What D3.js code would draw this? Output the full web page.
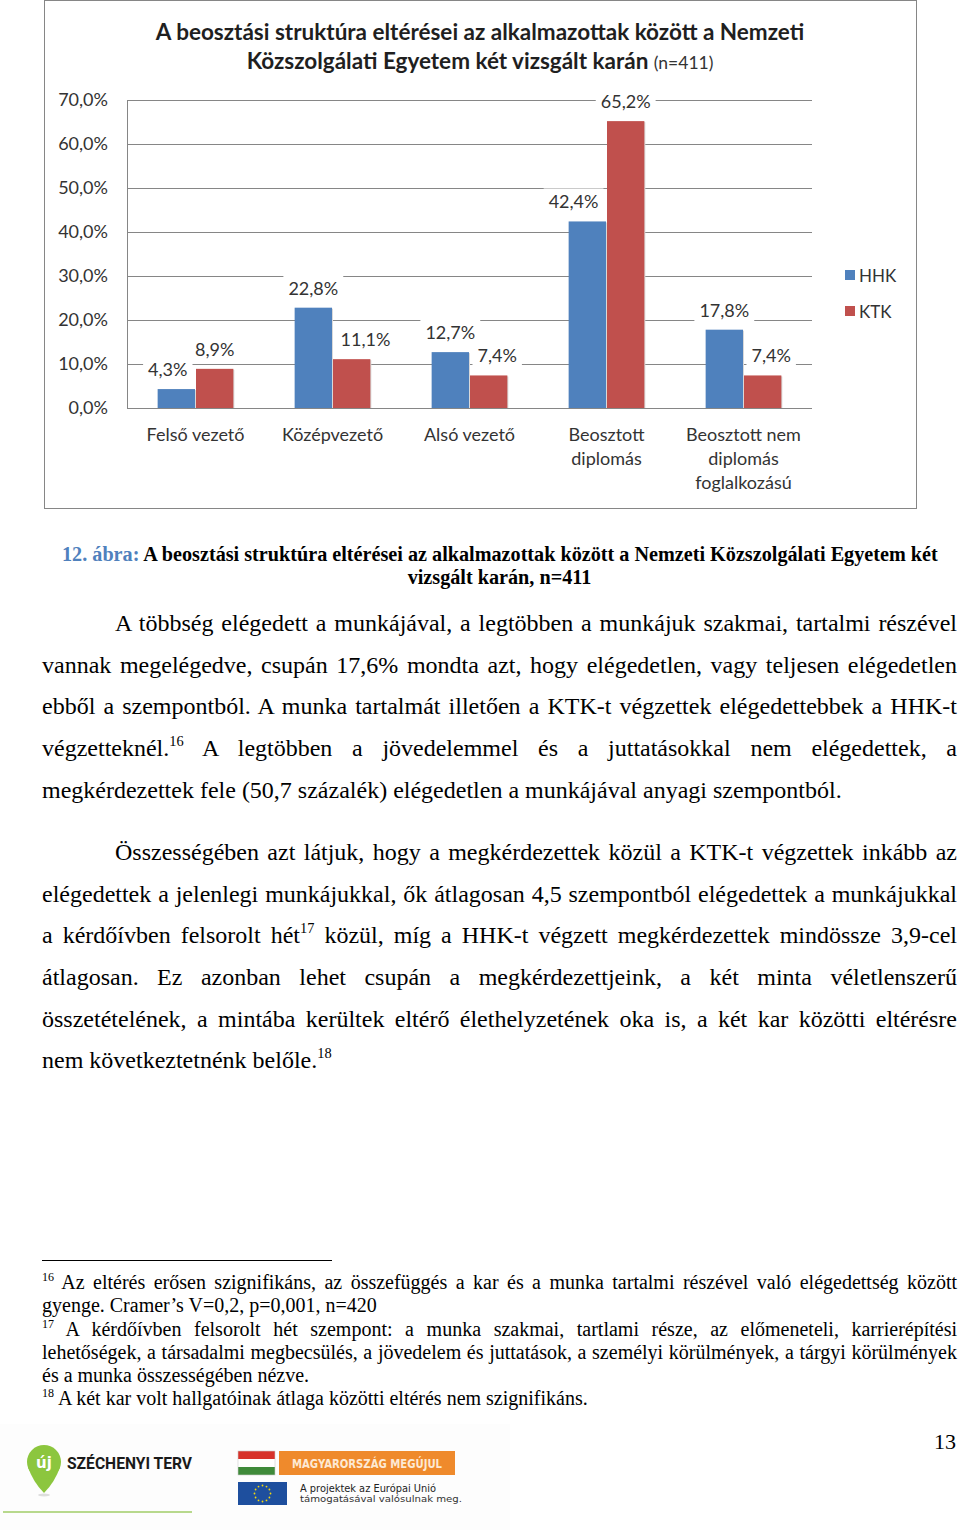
<!DOCTYPE html>
<html>
<head>
<meta charset="utf-8">
<script src="https://cdn.jsdelivr.net/npm/d3@7"></script>
<style>
  body { margin: 0; background: #fff; }
  svg { display: block; }
</style>
</head>
<body>
<div id="page"></div>
<script>
// chart data
const categories = [
  ["Felső vezető"],
  ["Középvezető"],
  ["Alsó vezető"],
  ["Beosztott", "diplomás"],
  ["Beosztott nem", "diplomás", "foglalkozású"]
];
const seriesNames = ["HHK", "KTK"];
const hhkValues = [4.3, 22.8, 12.7, 42.4, 17.8];
const ktkValues = [8.9, 11.1, 7.4, 65.2, 7.4];
const yTicks = [0, 10, 20, 30, 40, 50, 60, 70];

const chartTitle1 = "A beosztási struktúra eltérései az alkalmazottak között a Nemzeti";
const chartTitle2 = "Közszolgálati Egyetem két vizsgált karán";
const chartTitleN = "(n=411)";

// page text
const captionLabel = "12. ábra:";
const captionLine1 = "A beosztási struktúra eltérései az alkalmazottak között a Nemzeti Közszolgálati Egyetem két";
const captionLine2 = "vizsgált karán, n=411";

const paragraph1 = [
  "A többség elégedett a munkájával, a legtöbben a munkájuk szakmai, tartalmi részével",
  "vannak megelégedve, csupán 17,6% mondta azt, hogy elégedetlen, vagy teljesen elégedetlen",
  "ebből a szempontból. A munka tartalmát illetően a KTK-t végzettek elégedettebbek a HHK-t",
  "végzetteknél.^16 A legtöbben a jövedelemmel és a juttatásokkal nem elégedettek, a",
  "megkérdezettek fele (50,7 százalék) elégedetlen a munkájával anyagi szempontból."
];
const paragraph2 = [
  "Összességében azt látjuk, hogy a megkérdezettek közül a KTK-t végzettek inkább az",
  "elégedettek a jelenlegi munkájukkal, ők átlagosan 4,5 szempontból elégedettek a munkájukkal",
  "a kérdőívben felsorolt hét^17 közül, míg a HHK-t végzett megkérdezettek mindössze 3,9-cel",
  "átlagosan. Ez azonban lehet csupán a megkérdezettjeink, a két minta véletlenszerű",
  "összetételének, a mintába kerültek eltérő élethelyzetének oka is, a két kar közötti eltérésre",
  "nem következtetnénk belőle.^18"
];
const footnotes = [
  "^16 Az eltérés erősen szignifikáns, az összefüggés a kar és a munka tartalmi részével való elégedettség között",
  "gyenge. Cramer’s V=0,2, p=0,001, n=420",
  "^17 A kérdőívben felsorolt hét szempont: a munka szakmai, tartlami része, az előmeneteli, karrierépítési",
  "lehetőségek, a társadalmi megbecsülés, a jövedelem és juttatások, a személyi körülmények, a tárgyi körülmények",
  "és a munka összességében nézve.",
  "^18 A két kar volt hallgatóinak átlaga közötti eltérés nem szignifikáns."
];
const footnoteJustify = [true, false, true, true, false, false];
const pageNumber = "13";

const blue = "#4f81bd";
const red = "#c0504d";
const gridColor = "#868686";
const chartFont = "Lato, 'Open Sans', sans-serif";
const serif = "'Liberation Serif', 'DejaVu Serif', serif";

const svg = d3.select("#page").append("svg")
    .attr("width", 960)
    .attr("height", 1530);

svg.append("rect").attr("width", 960).attr("height", 1530).attr("fill", "#fff");

// ---------- chart ----------
const plot = {left: 127, right: 812, top: 100, bottom: 408};

svg.append("rect")
    .attr("x", 44.5).attr("y", 0.5)
    .attr("width", 872).attr("height", 508)
    .attr("fill", "#fff")
    .attr("stroke", gridColor);

const title = svg.append("g").attr("font-family", chartFont).attr("fill", "#1f1f1f");
title.append("text")
    .attr("x", 480).attr("y", 40)
    .attr("text-anchor", "middle")
    .attr("font-weight", "bold")
    .attr("font-size", 22.5)
    .text(chartTitle1);
const t2 = title.append("text")
    .attr("x", 480).attr("y", 69)
    .attr("text-anchor", "middle")
    .attr("font-size", 22.5);
t2.append("tspan").attr("font-weight", "bold").text(chartTitle2 + " ");
t2.append("tspan").attr("font-size", 17.5).attr("fill", "#333").text(chartTitleN);

const catKeys = categories.map(d => d.join("\n"));

const x0 = d3.scaleBand()
    .domain(catKeys)
    .range([plot.left, plot.right])
    .paddingInner(0.44)
    .paddingOuter(0.22);

const x1 = d3.scaleBand()
    .domain(seriesNames)
    .range([0, x0.bandwidth()]);

const y = d3.scaleLinear()
    .domain([0, 70])
    .range([plot.bottom, plot.top]);

const pct = v => d3.format(".1f")(v).replace(".", ",") + "%";

// gridlines and y labels
const yAxis = svg.append("g")
    .attr("transform", "translate(" + plot.left + ",0)")
    .call(d3.axisLeft(y)
        .tickValues(yTicks)
        .tickSize(-(plot.right - plot.left))
        .tickPadding(19)
        .tickFormat(pct));
yAxis.select(".domain").remove();
yAxis.selectAll(".tick line").attr("stroke", gridColor);
yAxis.selectAll(".tick text")
    .attr("font-family", chartFont)
    .attr("font-size", 18)
    .attr("fill", "#333");

svg.append("line")
    .attr("x1", plot.left + 0.5).attr("x2", plot.left + 0.5)
    .attr("y1", plot.top).attr("y2", plot.bottom)
    .attr("stroke", gridColor);

// category axis
const xAxis = svg.append("g")
    .attr("transform", "translate(0," + plot.bottom + ")")
    .call(d3.axisBottom(x0).tickSize(0).tickPadding(0));
xAxis.select(".domain").remove();
xAxis.selectAll(".tick text").each(function(d) {
  const el = d3.select(this).text(null)
      .attr("font-family", chartFont)
      .attr("font-size", 18)
      .attr("fill", "#333")
      .attr("y", 0).attr("dy", null);
  d.split("\n").forEach((line, i) => {
    el.append("tspan").attr("x", 0).attr("y", 33 + i * 24).text(line);
  });
});

// bars
const rows = categories.map((c, i) => ({
  key: catKeys[i],
  values: [
    {series: "HHK", value: hhkValues[i], other: ktkValues[i], color: blue},
    {series: "KTK", value: ktkValues[i], other: hhkValues[i], color: red}
  ]
}));

const groups = svg.append("g").selectAll("g")
  .data(rows)
  .join("g")
    .attr("transform", d => "translate(" + x0(d.key) + ",0)");

groups.selectAll("rect.shadow")
  .data(d => d.values)
  .join("rect")
    .attr("class", "shadow")
    .attr("x", d => x1(d.series) + 1.5)
    .attr("y", d => y(d.value) + 1)
    .attr("width", x1.bandwidth() - 1)
    .attr("height", d => plot.bottom - y(d.value) - 1)
    .attr("fill", "#d9d9d9");

groups.selectAll("rect.bar")
  .data(d => d.values)
  .join("rect")
    .attr("class", "bar")
    .attr("x", d => x1(d.series) + 0.5)
    .attr("y", d => y(d.value))
    .attr("width", x1.bandwidth() - 1)
    .attr("height", d => plot.bottom - y(d.value))
    .attr("fill", d => d.color);

// value labels with white boxes; a label that would sit over the
// neighbouring (taller) bar is pushed sideways, like Excel does
const labels = groups.selectAll("g.lab")
  .data(d => d.values)
  .join("g")
    .attr("class", "lab");

labels.append("text")
    .attr("text-anchor", "middle")
    .attr("dominant-baseline", "central")
    .attr("font-family", chartFont)
    .attr("font-size", 18)
    .attr("fill", "#333")
    .text(d => pct(d.value))
    .each(function(d) {
      const w = this.getComputedTextLength();
      const cy = y(d.value) - 20;
      let cx = x1(d.series) + x1.bandwidth() / 2;
      const gap = 8;
      if (cy + 13 > y(d.other)) {
        if (d.series === "KTK") {
          const edge = x1("HHK") + x1.bandwidth();
          cx = Math.max(cx, edge + gap + w / 2);
        } else {
          const edge = x1("KTK");
          cx = Math.min(cx, edge - gap - w / 2);
        }
      }
      const g = d3.select(this.parentNode)
          .attr("transform", "translate(" + cx + "," + cy + ")");
      g.insert("rect", "text")
          .attr("x", -w / 2 - 5).attr("y", -13)
          .attr("width", w + 10).attr("height", 26)
          .attr("fill", "#fff");
    });

// legend
const legend = svg.append("g").selectAll("g")
  .data(seriesNames)
  .join("g")
    .attr("transform", (d, i) => "translate(845," + (275 + i * 36) + ")");
legend.append("rect")
    .attr("x", 0).attr("y", -5)
    .attr("width", 10).attr("height", 10)
    .attr("fill", (d, i) => i === 0 ? blue : red);
legend.append("text")
    .attr("x", 14)
    .attr("dominant-baseline", "central")
    .attr("font-family", chartFont)
    .attr("font-size", 17)
    .attr("fill", "#333")
    .text(d => d);

// ---------- caption ----------
const cap = svg.append("g")
    .attr("font-family", serif)
    .attr("font-weight", "bold")
    .attr("font-size", 20.2);
const c1 = cap.append("text").attr("x", 62).attr("y", 561);
c1.append("tspan").attr("fill", blue).text(captionLabel + " ");
c1.append("tspan").attr("fill", "#000").text(captionLine1);
cap.append("text")
    .attr("x", 499.5).attr("y", 584)
    .attr("text-anchor", "middle")
    .text(captionLine2);

// ---------- body text ----------
function writeLine(g, line, x, xr, yPos, size, justify) {
  const t = g.append("text")
      .attr("x", x).attr("y", yPos)
      .attr("font-family", serif)
      .attr("font-size", size)
      .attr("fill", "#000");
  const parts = line.split(/\^(\d+)/);
  const lift = size * 0.4;
  let pending = 0;
  parts.forEach((p, i) => {
    if (i % 2 === 1) {
      t.append("tspan")
          .attr("dy", -lift + pending)
          .attr("font-size", size * 0.6)
          .text(p);
      pending = lift;
    } else if (p.length) {
      const s = t.append("tspan").text(p);
      if (pending) s.attr("dy", pending);
      pending = 0;
    }
  });
  if (justify) {
    const w = t.node().getComputedTextLength();
    const spaces = (line.match(/ /g) || []).length;
    if (spaces) t.attr("word-spacing", (xr - x - w) / spaces);
  }
}

const body = svg.append("g");
const bodySize = 24;
const p1y = [631, 673, 714, 756, 798];
paragraph1.forEach((line, i) => {
  writeLine(body, line, i === 0 ? 115 : 42, 957, p1y[i], bodySize, i < paragraph1.length - 1);
});
const p2y = [860, 902, 943, 985, 1027, 1068];
paragraph2.forEach((line, i) => {
  writeLine(body, line, i === 0 ? 115 : 42, 957, p2y[i], bodySize, i < paragraph2.length - 1);
});

// footnotes
svg.append("line")
    .attr("x1", 42).attr("x2", 332)
    .attr("y1", 1260.5).attr("y2", 1260.5)
    .attr("stroke", "#000");

const fnY = [1289, 1312, 1336, 1359, 1382, 1405];
footnotes.forEach((line, i) => {
  writeLine(body, line, 42, 957, fnY[i], 20, footnoteJustify[i]);
});

svg.append("text")
    .attr("x", 956).attr("y", 1449)
    .attr("text-anchor", "end")
    .attr("font-family", serif)
    .attr("font-size", 22)
    .text(pageNumber);

// ---------- logos ----------
const logos = svg.append("g");
logos.append("rect").attr("x", 0).attr("y", 1424).attr("width", 510).attr("height", 106).attr("fill", "#fdfdfd");

// Széchenyi pin
logos.append("path")
    .attr("d", "M28,1467 Q33,1482 44,1493 Q55,1482 60,1467 Z")
    .attr("fill", "#8cc63e");
logos.append("circle").attr("cx", 44).attr("cy", 1462).attr("r", 17).attr("fill", "#8cc63e");
logos.append("ellipse").attr("cx", 44).attr("cy", 1495).attr("rx", 6).attr("ry", 1.5).attr("fill", "#ddd");
logos.append("text")
    .attr("x", 44).attr("y", 1468)
    .attr("text-anchor", "middle")
    .attr("font-family", "'DejaVu Sans', sans-serif")
    .attr("font-weight", "bold")
    .attr("font-size", 15)
    .attr("fill", "#fff")
    .text("új");
logos.append("text")
    .attr("x", 67).attr("y", 1469)
    .attr("font-family", "'Roboto', 'DejaVu Sans', sans-serif")
    .attr("font-weight", "bold")
    .attr("font-size", 16)
    .attr("textLength", 125)
    .attr("lengthAdjust", "spacingAndGlyphs")
    .attr("fill", "#1a1a1a")
    .text("SZÉCHENYI TERV");
logos.append("line")
    .attr("x1", 3).attr("x2", 192)
    .attr("y1", 1512).attr("y2", 1512)
    .attr("stroke", "#b8d98d").attr("stroke-width", 2);

// Hungarian flag + banner
const flagStripes = ["#d7322a", "#ffffff", "#3f8a3a"];
flagStripes.forEach((c, i) => {
  logos.append("rect")
      .attr("x", 238).attr("y", 1451 + i * 8)
      .attr("width", 37).attr("height", 8)
      .attr("fill", c);
});
logos.append("rect").attr("x", 238).attr("y", 1451).attr("width", 37).attr("height", 24)
    .attr("fill", "none").attr("stroke", "#ccc").attr("stroke-width", 0.6);
logos.append("rect").attr("x", 279).attr("y", 1451).attr("width", 176).attr("height", 24).attr("fill", "#ef8a2c");
logos.append("text")
    .attr("x", 367).attr("y", 1468)
    .attr("text-anchor", "middle")
    .attr("font-family", "'DejaVu Sans', sans-serif")
    .attr("font-weight", "bold")
    .attr("font-size", 12)
    .attr("textLength", 150)
    .attr("lengthAdjust", "spacingAndGlyphs")
    .attr("fill", "#fde9d4")
    .text("MAGYARORSZÁG MEGÚJUL");

// EU flag
logos.append("rect").attr("x", 238).attr("y", 1482).attr("width", 49).attr("height", 23).attr("fill", "#1e4f9e");
d3.range(12).forEach(i => {
  const a = i * Math.PI / 6;
  logos.append("circle")
      .attr("cx", 262.5 + 8 * Math.cos(a))
      .attr("cy", 1493.5 + 8 * Math.sin(a))
      .attr("r", 0.9)
      .attr("fill", "#f5d90a");
});
logos.append("text")
    .attr("x", 300).attr("y", 1492)
    .attr("font-family", "'DejaVu Sans', sans-serif")
    .attr("font-size", 10)
    .attr("textLength", 136)
    .attr("lengthAdjust", "spacingAndGlyphs")
    .attr("fill", "#222")
    .text("A projektek az Európai Unió");
logos.append("text")
    .attr("x", 300).attr("y", 1502)
    .attr("font-family", "'DejaVu Sans', sans-serif")
    .attr("font-size", 9)
    .attr("textLength", 162)
    .attr("lengthAdjust", "spacingAndGlyphs")
    .attr("fill", "#333")
    .text("támogatásával valósulnak meg.");
</script>
</body>
</html>
